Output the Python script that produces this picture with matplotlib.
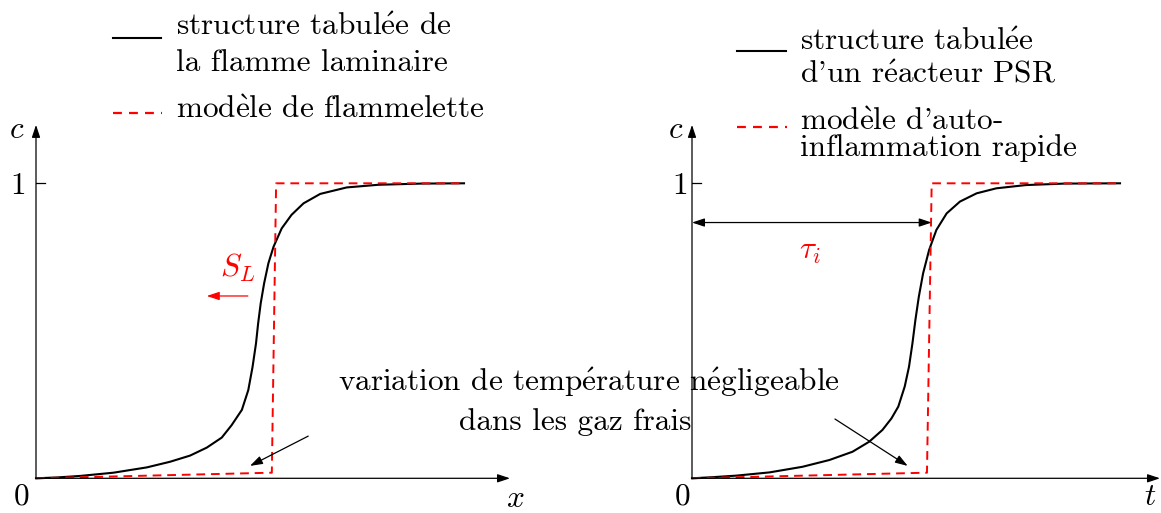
import numpy as np
import matplotlib
matplotlib.use("Agg")
import matplotlib.pyplot as plt

plt.rcParams['font.family'] = ['cmr10', 'DejaVu Serif']
plt.rcParams['mathtext.fontset'] = 'cm'
plt.rcParams['axes.unicode_minus'] = False

# data (x normalised so that the plateau ends at 1)
x_flame = [0.0, 0.05, 0.103, 0.181, 0.259, 0.313, 0.360, 0.399, 0.434, 0.457,
           0.481, 0.496, 0.506, 0.514, 0.519, 0.525, 0.533, 0.543, 0.555, 0.574,
           0.597, 0.625, 0.664, 0.726, 0.80, 0.90, 1.0]
c_flame = [0.0, 0.003, 0.008, 0.019, 0.037, 0.056, 0.077, 0.104, 0.138, 0.180,
           0.232, 0.299, 0.378, 0.457, 0.525, 0.593, 0.661, 0.729, 0.785, 0.847,
           0.893, 0.932, 0.964, 0.986, 0.995, 0.999, 1.0]
x_flamelet = [0.0, 0.551, 0.561, 1.0]
c_flamelet = [0.0, 0.019, 1.0, 1.0]

t_psr = [0.0, 0.05, 0.103, 0.181, 0.258, 0.321, 0.375, 0.414, 0.445, 0.466,
         0.482, 0.497, 0.507, 0.515, 0.522, 0.530, 0.540, 0.554, 0.571, 0.595,
         0.626, 0.665, 0.711, 0.78, 0.87, 1.0]
c_psr = [0.0, 0.004, 0.009, 0.020, 0.039, 0.062, 0.090, 0.124, 0.164, 0.203,
         0.243, 0.311, 0.378, 0.457, 0.537, 0.616, 0.695, 0.774, 0.842, 0.898,
         0.938, 0.966, 0.983, 0.994, 0.999, 1.0]
t_auto = [0.0, 0.549, 0.560, 1.0]
c_auto = [0.0, 0.019, 1.0, 1.0]
tau_i = 0.560

W, H = 1161, 513
fig = plt.figure(figsize=(W / 100, H / 100), dpi=100)
FS = 22.5
RED = '#ff0000'
DASH = (0, (4.5, 3))
arrow_kw = dict(arrowstyle='-|>,head_length=0.75,head_width=0.25', color='black', lw=0.9,
                shrinkA=0, shrinkB=0)


def fr(s):
    # accents through mathtext so they come from the same cm font
    return s.replace('é', r'$\acute{\mathrm{e}}$').replace('è', r'$\grave{\mathrm{e}}$')


def ftext(px, py, s, **kw):
    kw.setdefault('fontsize', FS)
    fig.text(px / W, 1 - py / H, fr(s), **kw)


def make_axes(x0, x1):
    ax = fig.add_axes([x0 / W, (H - 478.3) / H, (x1 - x0) / W, 354 / H])
    xmax = (x1 - x0) / 428
    ax.set_xlim(0, xmax)
    ax.set_ylim(0, 354 / 295)
    ax.axis('off')
    ax.annotate('', xy=(xmax, 0), xytext=(0, 0), arrowprops=arrow_kw, annotation_clip=False)
    ax.annotate('', xy=(0, 1.198), xytext=(0, 0), arrowprops=arrow_kw, annotation_clip=False)
    ax.plot([0, 0.02], [1, 1], color='black', lw=0.9)
    return ax


# left panel: laminar flame
ax1 = make_axes(36, 510)
ax1.plot(x_flame, c_flame, color='black', lw=1.5, clip_on=False)
ax1.plot(x_flamelet, c_flamelet, color=RED, lw=1.4, ls=DASH, clip_on=False)
ax1.text(0.472, 0.713, r'$S_L$', color=RED, fontsize=FS, ha='center', va='center')
ax1.annotate('', xy=(0.399, 0.618), xytext=(0.495, 0.618),
             arrowprops=dict(arrow_kw, color=RED))
ax1.annotate('', xy=(0.50, 0.042), xytext=(0.636, 0.143), arrowprops=arrow_kw)

# right panel: PSR
ax2 = make_axes(692, 1160)
ax2.plot(t_psr, c_psr, color='black', lw=1.5, clip_on=False)
ax2.plot(t_auto, c_auto, color=RED, lw=1.4, ls=DASH, clip_on=False)
ax2.annotate('', xy=(tau_i, 0.867), xytext=(0, 0.867),
             arrowprops=dict(arrow_kw, arrowstyle='<|-|>,head_length=0.75,head_width=0.25'))
ax2.text(0.276, 0.767, r'$\tau_i$', color=RED, fontsize=FS, ha='center', va='center')
ax2.annotate('', xy=(0.504, 0.042), xytext=(0.334, 0.201), arrowprops=arrow_kw)

# axis labels
for px, py, s in [(17, 130, r'$c$'), (18, 186, '1'), (22, 497, '0'), (515, 499, r'$x$'),
                  (676, 130, r'$c$'), (680, 186, '1'), (683, 497, '0'), (1150, 497, r'$t$')]:
    ftext(px, py, s, ha='center', va='center')

# legends
fig.add_artist(plt.Line2D([113 / W, 161 / W], [1 - 38 / H, 1 - 38 / H], color='black', lw=1.5))
fig.add_artist(plt.Line2D([113 / W, 162 / W], [1 - 113 / H, 1 - 113 / H], color=RED, lw=1.6,
                          ls=(0, (4, 3.2))))
ftext(176, 35, 'structure tabulée de', va='baseline')
ftext(176, 71, 'la flamme laminaire', va='baseline')
ftext(176, 118, 'modèle de flammelette', va='baseline')

fig.add_artist(plt.Line2D([737 / W, 786 / W], [1 - 51 / H, 1 - 51 / H], color='black', lw=1.5))
fig.add_artist(plt.Line2D([737 / W, 787 / W], [1 - 127 / H, 1 - 127 / H], color=RED, lw=1.6,
                          ls=(0, (4, 3.2))))
ftext(800, 50, 'structure tabulée', va='baseline')
ftext(800, 83, "d'un réacteur PSR", va='baseline')
ftext(800, 130, "modèle d'auto-", va='baseline')
ftext(800, 156, 'inflammation rapide', va='baseline')

# central note
ftext(589, 382, 'variation de température négligeable', ha='center', va='center')
ftext(575, 422, 'dans les gaz frais', ha='center', va='center')

fig.savefig('out.png', dpi=100)
